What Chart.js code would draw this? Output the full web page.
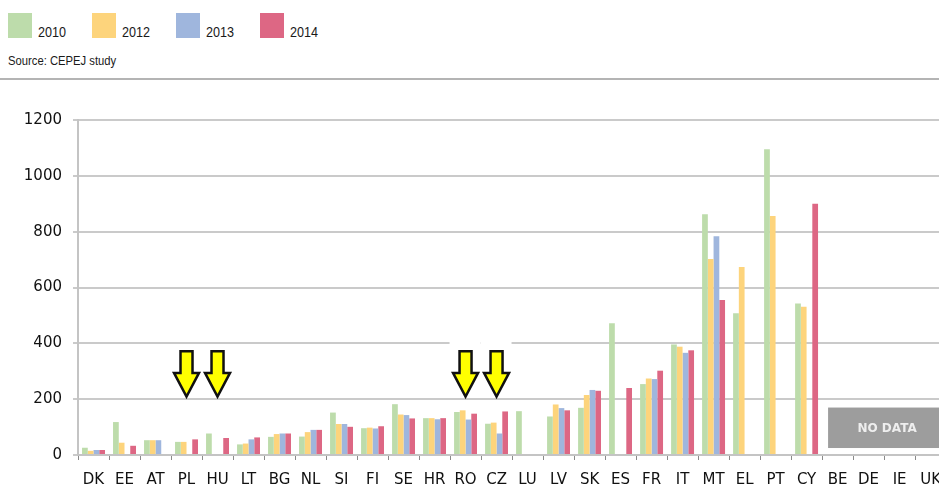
<!DOCTYPE html>
<html>
<head>
<meta charset="utf-8">
<script src="https://cdn.jsdelivr.net/npm/chart.js@4/dist/chart.umd.min.js"></script>
<style>
  html, body { margin: 0; padding: 0; background: #fff; overflow: hidden; }
  body { width: 939px; height: 486px; position: relative; }
  #legend { position: absolute; left: 8px; top: 13px; display: flex; }
  .item { width: 84px; display: flex; align-items: flex-end; }
  .box { width: 24px; height: 25px; margin-right: 6px; }
  .lbl { font-family: "Liberation Sans", sans-serif; font-size: 14px; color: #1a1a1a; line-height: 14px; margin-bottom: -1px; transform: scaleX(0.9); transform-origin: left; }
  #source { position: absolute; left: 8px; top: 54px; font-family: "Liberation Sans", sans-serif; font-size: 12.5px; color: #1a1a1a; transform: scaleX(0.9); transform-origin: left; }
  #rule { position: absolute; left: 0; top: 78px; width: 939px; height: 2px; background: #b4b4b4; }
  #wrap { position: absolute; left: 0; top: 100px; width: 952px; height: 386px; }
</style>
</head>
<body>
<div id="legend"></div>
<div id="source">Source: CEPEJ study</div>
<div id="rule"></div>
<div id="wrap"><canvas id="chart"></canvas></div>
<script>
// data
const countries = ['DK','EE','AT','PL','HU','LT','BG','NL','SI','FI','SE','HR','RO','CZ','LU','LV','SK','ES','FR','IT','MT','EL','PT','CY','BE','DE','IE','UK'];
const years = ['2010', '2012', '2013', '2014'];
const v2010 = [26, 118, 53, 47, 77, 38, 65, 66, 152, 96, 182, 132, 154, 112, 157, 138, 169, 472, 254, 396, 862, 508, 1095, 543, null, null, null, null];
const v2012 = [15, 44, 53, 47, null, 41, 75, 82, 111, 98, 145, 132, 160, 116, null, 181, 215, null, 274, 388, 702, 673, 856, 531, null, null, null, null];
const v2013 = [18, null, 53, null, null, 56, 77, 90, 111, 95, 143, 128, 127, 77, null, 168, 233, null, 272, 366, 784, null, null, null, null, null, null, null];
const v2014 = [18, 33, null, 56, 61, 63, 77, 90, 101, 103, 131, 132, 148, 156, null, 160, 230, 240, 302, 375, 555, null, null, 900, null, null, null, null];
const yTicks = [0, 200, 400, 600, 800, 1000, 1200];
const markedCountries = ['PL', 'HU', 'RO', 'CZ'];
const noDataCountries = ['BE', 'DE', 'IE', 'UK'];

const colors = ['#bddcab', '#fdd47c', '#9fb6dd', '#dd6784'];
const series = [v2010, v2012, v2013, v2014];

document.addEventListener('DOMContentLoaded', function() {
    // legend
    const legend = document.getElementById('legend');
    years.forEach((y, i) => {
        const item = document.createElement('div');
        item.className = 'item';
        item.innerHTML = `<div class="box" style="background:${colors[i]}"></div><div class="lbl">${y}</div>`;
        legend.appendChild(item);
    });

    // arrows and "no data" box
    const extras = {
        id: 'extras',
        afterDatasetsDraw(chart) {
            const ctx = chart.ctx;
            const x = chart.scales.x;
            const y = chart.scales.y;
            const step = x.getPixelForValue(1) - x.getPixelForValue(0);

            // no data box
            const first = countries.indexOf(noDataCountries[0]);
            const left = x.getPixelForValue(first) - step / 2 + 6;
            const top = y.getPixelForValue(170);
            const bottom = y.getPixelForValue(25);
            ctx.save();
            ctx.fillStyle = '#9d9d9d';
            ctx.fillRect(left, top, chart.width - left, bottom - top);
            ctx.fillStyle = '#eeeeee';
            ctx.font = 'bold 12px "DejaVu Sans"';
            ctx.textAlign = 'center';
            ctx.textBaseline = 'middle';
            ctx.fillText('NO DATA', left + 59, (top + bottom) / 2 + 1);
            ctx.restore();

            // yellow arrows
            markedCountries.forEach((c, i) => {
                const cx = x.getPixelForValue(countries.indexOf(c));
                const yTop = y.getPixelForValue(372);
                const yHead = y.getPixelForValue(294);
                const yTip = y.getPixelForValue(209);
                ctx.save();
                if (i >= 2) {
                    ctx.fillStyle = '#ffffff';
                    ctx.fillRect(cx - 16, yTop - 13, 31, 14);
                }
                ctx.beginPath();
                ctx.moveTo(cx - 6, yTop);
                ctx.lineTo(cx + 6, yTop);
                ctx.lineTo(cx + 6, yHead);
                ctx.lineTo(cx + 12.5, yHead);
                ctx.lineTo(cx, yTip);
                ctx.lineTo(cx - 12.5, yHead);
                ctx.lineTo(cx - 6, yHead);
                ctx.closePath();
                ctx.fillStyle = '#ffff00';
                ctx.fill();
                ctx.lineWidth = 2.5;
                ctx.strokeStyle = '#111111';
                ctx.lineJoin = 'miter';
                ctx.stroke();
                ctx.restore();
            });
        }
    };

    new Chart(document.getElementById('chart'), {
        type: 'bar',
        data: {
            labels: countries,
            datasets: years.map((y, i) => ({
                label: y,
                data: series[i],
                backgroundColor: colors[i],
                borderWidth: 0,
                categoryPercentage: 0.74,
                barPercentage: 1.0
            }))
        },
        options: {
            responsive: true,
            maintainAspectRatio: false,
            animation: false,
            layout: { padding: { top: 13, right: 0, left: 0, bottom: 0 } },
            plugins: {
                legend: { display: false },
                tooltip: { enabled: false }
            },
            scales: {
                x: {
                    afterFit: function(scale) { scale.height = 31; },
                    grid: {
                        drawOnChartArea: false,
                        drawTicks: true,
                        tickLength: 5,
                        color: '#8a8a8a',
                        lineWidth: 1
                    },
                    border: { color: '#c4c4c4', width: 2 },
                    ticks: {
                        color: '#111111',
                        font: { family: 'DejaVu Sans', size: 15 },
                        padding: 11,
                        maxRotation: 0,
                        autoSkip: false
                    }
                },
                y: {
                    min: 0,
                    max: 1200,
                    afterFit: function(scale) { scale.width = 78; },
                    afterBuildTicks: function(scale) { scale.ticks = yTicks.map(v => ({ value: v })); },
                    grid: {
                        color: '#cacaca',
                        lineWidth: 2,
                        tickLength: 5
                    },
                    border: { color: '#c4c4c4', width: 2 },
                    ticks: {
                        color: '#111111',
                        font: { family: 'DejaVu Sans', size: 15 },
                        padding: 11,
                        callback: function(value) { return String(value); }
                    }
                }
            }
        },
        plugins: [extras]
    });
});
</script>
</body>
</html>
